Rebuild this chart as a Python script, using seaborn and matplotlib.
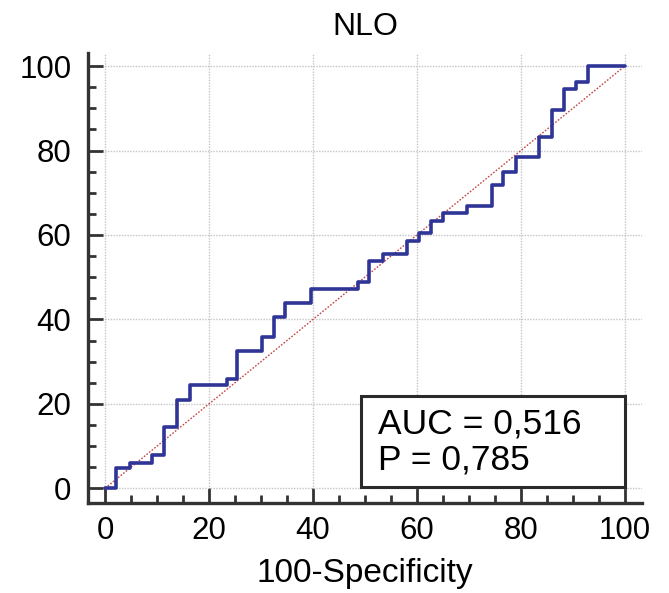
import matplotlib
matplotlib.use('Agg')
from matplotlib import pyplot as plt, ticker
from matplotlib.patches import Rectangle
import seaborn as sns
import pandas as pd

# ROC corner points (100-Specificity, Sensitivity)
fpr = [0, 2.1, 4.7, 9.0, 11.3, 13.9, 16.3, 23.4, 25.3, 30.1, 32.5, 34.6, 39.6,
       48.7, 50.8, 53.4, 58.1, 60.3, 62.8, 65.1, 69.7, 74.4, 76.6, 79.0, 83.5,
       85.9, 88.3, 90.7, 92.9, 100]
tpr = [0, 4.7, 6.1, 7.9, 14.4, 21.0, 24.4, 25.8, 32.5, 35.8, 40.6, 43.9, 47.1,
       48.8, 53.8, 55.5, 58.6, 60.4, 63.4, 65.1, 66.9, 71.8, 74.8, 78.5, 83.1,
       89.7, 94.6, 96.3, 100, 100]
diag = [0, 100]
title = 'NLO'
xlabel = '100-Specificity'
stats = ['AUC = 0,516', 'P = 0,785']

sns.set_theme(style='white')
plt.rcParams['font.family'] = ['Liberation Sans', 'DejaVu Sans']

df = pd.DataFrame({'fpr': fpr, 'tpr': tpr})

fig, ax = plt.subplots(figsize=(6.69, 5.93), dpi=100)
fig.subplots_adjust(left=0.1315, right=0.9596, bottom=0.151, top=0.9106)

sns.lineplot(x=diag, y=diag, ax=ax, color='#c04848', linewidth=1.0,
             linestyle=(0, (1.2, 1.2)), zorder=3)
sns.lineplot(data=df, x='fpr', y='tpr', ax=ax, estimator=None, sort=False,
             drawstyle='steps-post', color='#2f3596', linewidth=2.6, zorder=4)

ax.set_xlim(-3.3, 103.3)
ax.set_ylim(-3.6, 103.1)
ax.xaxis.set_major_locator(ticker.MultipleLocator(20))
ax.yaxis.set_major_locator(ticker.MultipleLocator(20))
ax.xaxis.set_minor_locator(ticker.MultipleLocator(5))
ax.yaxis.set_minor_locator(ticker.MultipleLocator(5))
ax.grid(True, which='major', color='#c4c4c4', linestyle=(0, (1, 1)), linewidth=1.0)
ax.set_axisbelow(True)

for side in ['top', 'right']:
    ax.spines[side].set_visible(False)
for side in ['left', 'bottom']:
    ax.spines[side].set_color('#333333')
    ax.spines[side].set_linewidth(2.4)

ax.tick_params(which='both', direction='in', color='#333333', width=2.0,
               bottom=True, left=True)
ax.tick_params(which='major', length=10.5, labelsize=22.5, labelcolor='#000000')
ax.tick_params(which='minor', length=5.5)
ax.tick_params(axis='x', which='major', pad=9)
ax.tick_params(axis='y', which='major', pad=12)

ax.set_xlabel(xlabel, fontsize=24, color='#000000', labelpad=9)
ax.set_ylabel('')
ax.set_title(title, fontsize=23, color='#000000', pad=13)

box = Rectangle((0.492, 0.036), 0.477, 0.203, transform=ax.transAxes,
                facecolor='white', edgecolor='#2a2a2a', linewidth=2.2, zorder=5)
ax.add_patch(box)
ax.text(0.523, 0.156, stats[0], transform=ax.transAxes, fontsize=25.5,
        color='#000000', va='baseline', ha='left', zorder=6)
ax.text(0.523, 0.076, stats[1], transform=ax.transAxes, fontsize=25.5,
        color='#000000', va='baseline', ha='left', zorder=6)

plt.savefig('out.png', dpi=100)
